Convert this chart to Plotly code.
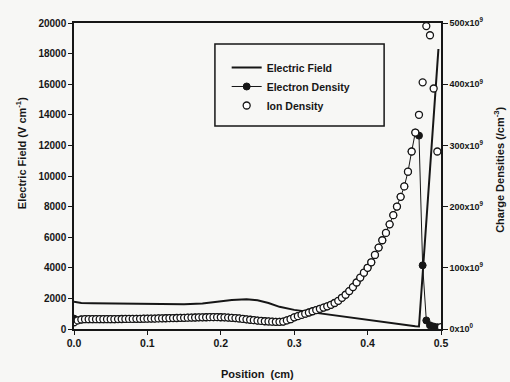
import plotly.graph_objects as go

# Spatial grid for the density profiles (cm)
position = [round(i * 0.005, 3) for i in range(101)]

# Ion density along the grid (units of 1e9 cm^-3)
ion_density = [
    11, 14, 15.5, 16, 16, 16, 16, 16, 16, 16,
    16, 16, 16.2, 16.3, 16.4, 16.5, 16.5, 16.6, 16.7, 16.8,
    16.9, 17, 17.1, 17.3, 17.4, 17.6, 17.7, 17.9, 18, 18.2,
    18.3, 18.5, 18.7, 18.8, 19, 19.1, 19.2, 19.3, 19.3, 19.3,
    19.2, 19, 18.7, 18.3, 17.8, 17.2, 16.5, 15.8, 15.1, 14.4,
    13.8, 13.2, 12.7, 12.3, 12, 11.8, 11.8, 12.1, 14, 16,
    19, 21, 23, 25, 27, 29, 31, 33, 35, 37,
    39.5, 42.5, 46, 51, 56, 62, 68.5, 76, 84, 92,
    100, 109, 121, 133, 145, 157, 171, 186, 200, 216,
    233, 257, 290, 321, 350, 403, 495, 480, 393, 290,
    3,
]

# Electron density along the same grid (units of 1e9 cm^-3)
electron_density = [
    17, 14, 15.5, 16, 16, 16, 16, 16, 16, 16,
    16, 16, 16.2, 16.3, 16.4, 16.5, 16.5, 16.6, 16.7, 16.8,
    16.9, 17, 17.1, 17.3, 17.4, 17.6, 17.7, 17.9, 18, 18.2,
    18.3, 18.5, 18.7, 18.8, 19, 19.1, 19.2, 19.3, 19.3, 19.3,
    19.2, 19, 18.7, 18.3, 17.8, 17.2, 16.5, 15.8, 15.1, 14.4,
    13.8, 13.2, 12.7, 12.3, 12, 11.8, 11.8, 12.1, 14, 16,
    19, 21, 23, 25, 27, 29, 31, 33, 35, 37,
    39.5, 42.5, 46, 51, 56, 62, 68.5, 76, 84, 92,
    100, 109, 121, 133, 145, 157, 171, 186, 200, 216,
    233, 257, 290, 321, 316, 104, 14, 6, 4, 3,
    1,
]

# Electric field profile (V/cm)
field_position = [0.0, 0.005, 0.01, 0.025, 0.05, 0.075, 0.1, 0.125, 0.15, 0.175,
                  0.2, 0.215, 0.235, 0.25, 0.265, 0.28, 0.3, 0.32, 0.34, 0.36,
                  0.38, 0.4, 0.42, 0.44, 0.455, 0.465, 0.47, 0.4965]
field_values = [1780, 1720, 1700, 1690, 1670, 1650, 1630, 1615, 1610, 1660,
                1800, 1900, 1950, 1880, 1700, 1450, 1250, 1120, 980, 830,
                700, 560, 430, 300, 220, 175, 160, 18300]

x_ticks = [0.0, 0.1, 0.2, 0.3, 0.4, 0.5]
x_tick_text = ["0.0", "0.1", "0.2", "0.3", "0.4", "0.5"]
density_ticks = [0, 100, 200, 300, 400, 500]
density_tick_text = ["0x10<sup>0</sup>", "100x10<sup>9</sup>", "200x10<sup>9</sup>",
                     "300x10<sup>9</sup>", "400x10<sup>9</sup>", "500x10<sup>9</sup>"]

INK = "#161616"
BG = "#f7f7f5"
FONT = "Liberation Sans, Arial, sans-serif"

fig = go.Figure()

fig.add_trace(go.Scatter(
    x=position, y=electron_density, name="Electron Density", yaxis="y2",
    mode="lines+markers", legendrank=2,
    line=dict(color=INK, width=1),
    marker=dict(symbol="circle", size=7, color=INK, line=dict(color=INK, width=1)),
))
fig.add_trace(go.Scatter(
    x=position, y=ion_density, name="Ion Density", yaxis="y2",
    mode="markers", legendrank=3,
    marker=dict(symbol="circle", size=7, color="white", line=dict(color=INK, width=1.3)),
))
fig.add_trace(go.Scatter(
    x=field_position, y=field_values, name="Electric Field",
    mode="lines", legendrank=1,
    line=dict(color=INK, width=2),
))

axis_font = dict(family=FONT, size=10, color=INK, weight="bold")
title_font = dict(family=FONT, size=11, color=INK, weight="bold")

fig.update_layout(
    width=510, height=382,
    margin=dict(l=74, r=69, t=23, b=53),
    paper_bgcolor=BG, plot_bgcolor=BG,
    font=dict(family=FONT, color=INK),
    xaxis=dict(
        range=[0, 0.5], tickvals=x_ticks, ticktext=x_tick_text,
        ticks="outside", ticklen=4, tickwidth=1.2, tickcolor=INK,
        showline=True, linecolor=INK, linewidth=1.5, mirror=True,
        showgrid=False, zeroline=False, tickfont=dict(axis_font, size=10.5),
    ),
    yaxis=dict(
        range=[0, 20000], dtick=2000, tickformat="d",
        ticks="outside", ticklen=4, tickwidth=1.2, tickcolor=INK,
        showline=True, linecolor=INK, linewidth=1.5,
        showgrid=False, zeroline=False, tickfont=axis_font,
    ),
    yaxis2=dict(
        range=[0, 500], overlaying="y", side="right",
        tickvals=density_ticks, ticktext=density_tick_text,
        ticks="outside", ticklen=5, tickwidth=1.2, tickcolor=INK,
        showline=True, linecolor=INK, linewidth=1.5,
        showgrid=False, zeroline=False, tickfont=dict(axis_font, size=9),
    ),
    showlegend=True,
    legend=dict(
        x=0.416, y=0.902, xanchor="left", yanchor="top",
        bgcolor="rgba(0,0,0,0)", borderwidth=0,
        font=dict(family=FONT, size=10.5, color=INK, weight="bold"),
        traceorder="normal",
    ),
    shapes=[dict(
        type="rect", xref="paper", yref="paper",
        x0=0.384, x1=0.845, y0=0.663, y1=0.931,
        line=dict(color=INK, width=1.5), fillcolor="rgba(0,0,0,0)",
    )],
    annotations=[
        dict(text="Electric Field (V cm<sup>-1</sup>)", xref="paper", yref="paper",
             x=-0.144, y=0.575, xanchor="center", yanchor="middle",
             textangle=-90, showarrow=False, font=title_font),
        dict(text="Charge Densities (/cm<sup>-3</sup>)", xref="paper", yref="paper",
             x=1.158, y=0.52, xanchor="center", yanchor="middle",
             textangle=-90, showarrow=False, font=title_font),
        dict(text="Position  (cm)", xref="paper", yref="paper",
             x=0.5, y=-0.148, xanchor="center", yanchor="middle",
             showarrow=False, font=title_font),
    ],
)

fig.write_html("out.html")
